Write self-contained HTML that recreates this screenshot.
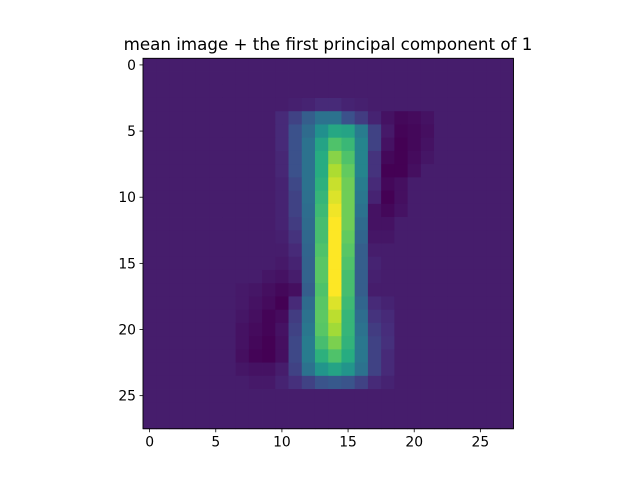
<!DOCTYPE html>
<html><head><meta charset="utf-8"><style>
body{margin:0;background:#fff;}
svg text{font-family:"DejaVu Sans","Liberation Sans",sans-serif;}
</style></head><body>
<svg id="chart" width="640" height="480" viewBox="0 0 640 480">
<text x="328" y="50" text-anchor="middle" font-size="16.7">mean image + the first principal component of 1</text>
<g id="cells"></g>
<g id="axes"></g>
</svg>
<script>
const gridSize = 28;
const backgroundValue = 0.08;
// sparse rows: [row, startCol, values...]
const rowSegments = [
[3, 11, 0.09, 0.1, 0.12, 0.12, 0.1, 0.09],
[4, 10, 0.12, 0.2, 0.3, 0.38, 0.38, 0.25, 0.18, 0.1, 0.05, 0.02, 0.03, 0.05],
[5, 10, 0.12, 0.25, 0.35, 0.5, 0.6, 0.58, 0.42, 0.2, 0.07, 0.01, 0.02, 0.04],
[6, 10, 0.12, 0.25, 0.38, 0.58, 0.72, 0.67, 0.45, 0.2, 0.05, 0.0, 0.02, 0.05],
[7, 10, 0.11, 0.25, 0.38, 0.62, 0.82, 0.72, 0.45, 0.15, 0.02, 0.0, 0.03, 0.06],
[8, 10, 0.11, 0.25, 0.38, 0.62, 0.88, 0.76, 0.45, 0.15, 0.0, 0.0, 0.04],
[9, 10, 0.1, 0.22, 0.38, 0.64, 0.92, 0.78, 0.42, 0.12, 0.02, 0.04],
[10, 10, 0.1, 0.2, 0.37, 0.66, 0.95, 0.78, 0.4, 0.1, 0.0, 0.04],
[11, 10, 0.1, 0.2, 0.36, 0.68, 0.98, 0.78, 0.38, 0.05, 0.02, 0.05],
[12, 10, 0.1, 0.18, 0.35, 0.7, 1.0, 0.78, 0.35, 0.05, 0.05],
[13, 10, 0.09, 0.15, 0.34, 0.7, 1.0, 0.76, 0.33, 0.06, 0.06],
[14, 10, 0.08, 0.12, 0.33, 0.72, 1.0, 0.74, 0.3, 0.08],
[15, 10, 0.07, 0.1, 0.32, 0.74, 1.0, 0.72, 0.3, 0.1],
[16, 9, 0.06, 0.05, 0.08, 0.32, 0.74, 1.0, 0.7, 0.3, 0.09],
[17, 6, 0.08, 0.07, 0.06, 0.04, 0.02, 0.04, 0.3, 0.72, 1.0, 0.7, 0.3, 0.08, 0.08],
[18, 6, 0.08, 0.07, 0.05, 0.03, 0.0, 0.12, 0.35, 0.74, 0.95, 0.68, 0.33, 0.12, 0.1],
[19, 7, 0.06, 0.04, 0.01, 0.03, 0.18, 0.38, 0.75, 0.9, 0.66, 0.36, 0.15, 0.12],
[20, 7, 0.05, 0.03, 0.01, 0.05, 0.2, 0.4, 0.74, 0.86, 0.66, 0.38, 0.18, 0.13],
[21, 7, 0.05, 0.02, 0.0, 0.04, 0.22, 0.42, 0.7, 0.8, 0.65, 0.4, 0.2, 0.14],
[22, 7, 0.04, 0.01, 0.0, 0.04, 0.22, 0.42, 0.64, 0.72, 0.62, 0.4, 0.2, 0.12],
[23, 7, 0.06, 0.05, 0.05, 0.08, 0.2, 0.38, 0.52, 0.58, 0.52, 0.38, 0.2, 0.12],
[24, 8, 0.07, 0.07, 0.1, 0.14, 0.2, 0.26, 0.28, 0.26, 0.2, 0.12, 0.1]
];
const xTickLabels = [0, 5, 10, 15, 20, 25];
const yTickLabels = [0, 5, 10, 15, 20, 25];

const NS = "http://www.w3.org/2000/svg";
const plotLeft = 143, plotTop = 58.3, cell = 13.23;
const xPos = c => plotLeft + c * cell;
const yPos = r => plotTop + r * cell;
const viridisStops = [[0,68,1,84],[0.125,71,44,122],[0.25,59,81,139],[0.375,44,113,142],[0.5,33,144,141],[0.625,39,173,129],[0.75,92,200,99],[0.875,170,220,50],[1,253,231,37]];
function viridis(v){
  v = Math.max(0, Math.min(1, v));
  for (let i = 1; i < viridisStops.length; i++) {
    const a = viridisStops[i-1], b = viridisStops[i];
    if (v <= b[0]) {
      const t = (v - a[0]) / (b[0] - a[0]);
      return `rgb(${Math.round(a[1]+t*(b[1]-a[1]))},${Math.round(a[2]+t*(b[2]-a[2]))},${Math.round(a[3]+t*(b[3]-a[3]))})`;
    }
  }
  return 'rgb(253,231,37)';
}
const grid = [];
for (let r = 0; r < gridSize; r++) { grid.push(new Array(gridSize).fill(backgroundValue)); }
rowSegments.forEach(seg => { const r = seg[0], c0 = seg[1]; for (let i = 2; i < seg.length; i++) grid[r][c0 + i - 2] = seg[i]; });
const cells = document.getElementById('cells');
for (let r = 0; r < gridSize; r++) for (let c = 0; c < gridSize; c++) {
  const el = document.createElementNS(NS, 'rect');
  el.setAttribute('x', xPos(c)); el.setAttribute('y', yPos(r));
  el.setAttribute('width', cell + 0.4); el.setAttribute('height', cell + 0.4);
  el.setAttribute('fill', viridis(grid[r][c]));
  
  
  cells.appendChild(el);
}
const axes = document.getElementById('axes');
const frame = document.createElementNS(NS, 'rect');
frame.setAttribute('x', plotLeft); frame.setAttribute('y', plotTop);
frame.setAttribute('width', cell * gridSize); frame.setAttribute('height', cell * gridSize);
frame.setAttribute('fill', 'none'); frame.setAttribute('stroke', '#000'); frame.setAttribute('stroke-width', '0.9');


axes.appendChild(frame);
const plotBottom = plotTop + cell * gridSize;
xTickLabels.forEach(v => {
  const x = xPos(v + 0.5);
  const t = document.createElementNS(NS, 'line');
  t.setAttribute('x1', x); t.setAttribute('x2', x); t.setAttribute('y1', plotBottom); t.setAttribute('y2', plotBottom + 3.5);
  t.setAttribute('stroke', '#000'); t.setAttribute('stroke-width', '0.8');
  
  
  axes.appendChild(t);
  const l = document.createElementNS(NS, 'text');
  l.setAttribute('x', x); l.setAttribute('y', plotBottom + 18); l.setAttribute('text-anchor', 'middle'); l.setAttribute('font-size', '13.9');
  l.textContent = v;
  
  
  axes.appendChild(l);
});
yTickLabels.forEach(v => {
  const y = yPos(v + 0.5);
  const t = document.createElementNS(NS, 'line');
  t.setAttribute('x1', plotLeft - 3.5); t.setAttribute('x2', plotLeft); t.setAttribute('y1', y); t.setAttribute('y2', y);
  t.setAttribute('stroke', '#000'); t.setAttribute('stroke-width', '0.8');
  
  
  axes.appendChild(t);
  const l = document.createElementNS(NS, 'text');
  l.setAttribute('x', plotLeft - 7); l.setAttribute('y', y + 5); l.setAttribute('text-anchor', 'end'); l.setAttribute('font-size', '13.9');
  l.textContent = v;
  
  
  axes.appendChild(l);
});
</script>
</body></html>
